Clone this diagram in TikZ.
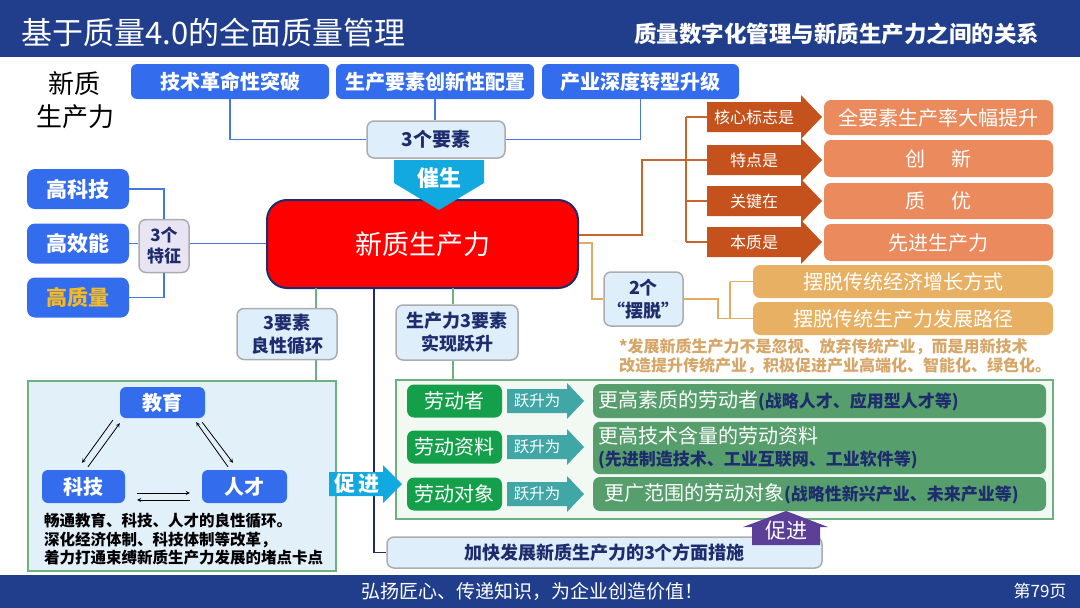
\documentclass[tikz,border=0pt]{standalone}
\usepackage{fontspec}
\setmainfont{Noto Sans CJK SC}
\newcommand{\fsz}[1]{\fontsize{#1}{#1}\selectfont}
\definecolor{hdr}{RGB}{33,62,140}
\definecolor{myblue}{RGB}{52,108,238}
\definecolor{navy}{RGB}{30,44,110}
\definecolor{lineblue}{RGB}{70,120,225}
\definecolor{cyanar}{RGB}{18,168,224}
\definecolor{darkor}{RGB}{197,82,28}
\definecolor{salmon}{RGB}{235,138,92}
\definecolor{tanbox}{RGB}{232,176,98}
\definecolor{tantxt}{RGB}{214,166,104}
\definecolor{lineor}{RGB}{200,100,45}
\definecolor{linetan}{RGB}{228,170,96}
\definecolor{lightbl}{RGB}{222,239,251}
\definecolor{lav}{RGB}{232,228,244}
\definecolor{panelbl}{RGB}{226,240,250}
\definecolor{panelgr}{RGB}{242,249,243}
\definecolor{grline}{RGB}{110,176,128}
\definecolor{green1}{RGB}{20,160,75}
\definecolor{teal1}{RGB}{64,166,166}
\definecolor{dgreen}{RGB}{86,158,108}
\definecolor{purp}{RGB}{92,64,152}
\definecolor{gold}{RGB}{242,186,40}
\definecolor{redbox}{RGB}{255,0,0}
\usetikzlibrary{arrows}

\begin{document}
\begin{tikzpicture}[x=1pt,y=-1pt,>=stealth,
  bbox/.style={fill=myblue,rounded corners=6,text=white,font=\bfseries\fsz{20},inner sep=0},
  lbox/.style={fill=lightbl,draw=gray!65,line width=1.5,rounded corners=7,text=navy,align=center,inner sep=0},
  blueln/.style={draw=lineblue,line width=1.5},
  orangeln/.style={draw=lineor,line width=1.8},
  tanln/.style={draw=linetan,line width=1.8},
  greenln/.style={draw=grline,line width=1.8},
  navyln/.style={draw=navy,line width=1.5},
  thinar/.style={->,line width=0.8}]
  \useasboundingbox (0,0) rectangle (1080,608);

  % header and footer
  \fill[hdr] (0,0) rectangle (1080,57);
  \fill[hdr] (0,575) rectangle (1080,608);
  \node[text=white,font=\fsz{31},anchor=west] (ttl) at (18,33) {基于质量4.0的全面质量管理};
  \node[text=white,font=\bfseries\fsz{22.5},anchor=east] (sub) at (1043,34) {质量数字化管理与新质生产力之间的关系};
  \node[text=white,font=\fsz{19}] (ftr) at (532,591) {弘扬匠心、传递知识，为企业创造价值！};
  \node[text=white,font=\fsz{17},anchor=east] (pg) at (1070,591) {第79页};

  \node[font=\fontsize{26}{33}\selectfont,align=center] (lbl) at (75,100) {新质\\生产力};

  % three factors
  \node[bbox,minimum width=198,minimum height=35] (tech) at (230,81.5) {技术革命性突破};
  \node[bbox,minimum width=198,minimum height=35] (fac) at (435,81.5) {生产要素创新性配置};
  \node[bbox,minimum width=197,minimum height=35] (ind) at (640.5,81.5) {产业深度转型升级};
  \node[lbox,minimum width=138,minimum height=37,font=\bfseries\fsz{19}] (ys) at (436,139.5) {3个要素};
  \draw[blueln] (tech.south) |- (ys.west);
  \draw[blueln] (fac.south) -- (fac.south |- ys.north);
  \draw[blueln] (ind.south) |- (ys.east);

  % core
  \node[fill=redbox,draw=navy,line width=2,rounded corners=20,minimum width=311,minimum height=88,
        text=white,font=\fsz{27}] (core) at (422.5,244) {新质生产力};
  \fill[cyanar] (394,160) -- (484,160) -- (484,183) -- (439,210) -- (394,183) -- cycle;
  \node[text=white,font=\bfseries\fsz{22}] (cs) at (439,178) {催生};

  % three features
  \foreach \y/\t/\n in {189/高科技/hk, 243.5/高效能/hx, 297.5/\textcolor{gold}{高质量}/hz}
    \node[bbox,minimum width=102,minimum height=40,rounded corners=8,font=\bfseries\fsz{21}] (\n) at (78,\y) {\t};
  \node[lbox,fill=lav,minimum width=50,minimum height=53,font=\bfseries\fontsize{17}{21}\selectfont] (tz) at (164,246) {3个\\特征};
  \draw[blueln] (hk.east) -| (tz.north);
  \draw[blueln] (hz.east) -| (tz.south);
  \draw[blueln] (hx.east) -- (tz.west |- hx.east);
  \draw[blueln] (tz.east |- hx.east) -- (core.west |- hx.east);

  % orange branch
  \foreach \y/\t/\n in {117/核心标志是/k1, 160/特点是/k2, 201/关键在/k3, 242/本质是/k4}{
    \fill[darkor] (707,\y-15) -- (801,\y-15) -- (801,\y-22) -- (822,\y) -- (801,\y+22) -- (801,\y+15) -- (707,\y+15) -- cycle;
    \node[text=white,font=\fsz{16},minimum width=94,inner sep=0] (\n) at (754,\y) {\t};
  }
  \foreach \y/\h/\t/\n in {117.5/35/全要素生产率大幅提升/r1, 158.5/37/创\hspace{1.3em}新/r2,
                           201/36/质\hspace{1.3em}优/r3, 242.5/37/先进生产力/r4}
    \node[fill=salmon,rounded corners=7,minimum width=229,minimum height=\h,text=white,font=\fsz{20}] (\n) at (938.5,\y) {\t};
  \coordinate (oj) at (642,235);
  \coordinate (ot) at (686,117);
  \coordinate (ob) at (686,242);
  \draw[orangeln] (core.east |- oj) -- (oj) |- (k2.west);
  \draw[orangeln] (ot) -- (ob);
  \foreach \n in {k1,k3,k4}
    \draw[orangeln] (ot |- \n.west) -- (\n.west);

  % two breakaways
  \node[lbox,minimum width=79,minimum height=54,font=\bfseries\fontsize{18}{23}\selectfont] (bt) at (643.5,299) {2个\\“摆脱”};
  \node[fill=tanbox,rounded corners=7,minimum width=300,minimum height=33,text=white,font=\fsz{20}] (tb1) at (903,281.5) {摆脱传统经济增长方式};
  \node[fill=tanbox,rounded corners=7,minimum width=300,minimum height=33,text=white,font=\fsz{20}] (tb2) at (903,318.5) {摆脱传统生产力发展路径};
  \coordinate (tj) at (592,243);
  \coordinate (tv) at (730,300);
  \draw[tanln] (core.east |- tj) -- (tj) |- (bt.west);
  \draw[tanln] (bt.east) -- ++(34,0) |- (tb2.west);
  \draw[tanln] (tv |- tb1.west) -- (tb1.west);
  \draw[tanln] (tv |- tb1.west) -- (tv |- tb2.west);
  \node[anchor=west,inner sep=0,text=tantxt,font=\bfseries\fontsize{16}{19}\selectfont,align=left] (note) at (619,356)
    {*发展新质生产力不是忽视、放弃传统产业，而是用新技术\\改造提升传统产业，积极促进产业高端化、智能化、绿色化。};

  % lower panels
  \node[draw=grline,fill=panelbl,line width=1.2,minimum width=308,minimum height=190] (lp) at (182,476) {};
  \node[draw=grline,fill=panelgr,line width=1.2,minimum width=657,minimum height=139] (rp) at (724.5,449.5) {};
  \node[lbox,minimum width=100,minimum height=51,font=\bfseries\fontsize{18}{23}\selectfont] (ly) at (287,334) {3要素\\良性循环};
  \node[lbox,minimum width=122,minimum height=55,font=\bfseries\fontsize{18}{23}\selectfont] (sy) at (457,332.5) {生产力3要素\\实现跃升};
  \node[lbox,minimum width=435,minimum height=31,font=\bfseries\fsz{18}] (jk) at (604.5,552.5) {加快发展新质生产力的3个方面措施};
  \coordinate (g1) at (316,288);
  \coordinate (g2) at (453,288);
  \coordinate (n1) at (374,288);
  \draw[greenln] (g1) -- (g1 |- ly.north);
  \draw[greenln] (g1 |- ly.south) -- (g1 |- lp.north);
  \draw[greenln] (g2) -- (g2 |- sy.north);
  \draw[greenln] (g2 |- sy.south) -- (g2 |- rp.north);
  \draw[navyln] (n1) |- (jk.west);

  % virtuous circle
  \node[bbox,minimum width=85,minimum height=31] (jy) at (162.5,402.5) {教育};
  \node[bbox,minimum width=83,minimum height=33] (kj) at (83.5,486.5) {科技};
  \node[bbox,minimum width=85,minimum height=33] (rc) at (244.5,486.5) {人才};
  \draw[thinar] ([shift={(-7,2)}]jy.south west) -- ([shift={(-1.5,-7)}]kj.north);
  \draw[thinar] ([shift={(4.5,-3)}]kj.north) -- ([shift={(0,5)}]jy.south west);
  \draw[thinar] ([shift={(-3,4)}]jy.south east) -- ([shift={(-11.5,-7)}]rc.north);
  \draw[thinar] ([shift={(-16.5,-3)}]rc.north) -- ([shift={(-9,4)}]jy.south east);
  \draw[thinar] ([shift={(12,6.5)}]kj.east) -- ([shift={(-12,6.5)}]rc.west);
  \draw[thinar] ([shift={(-12,13.5)}]rc.west) -- ([shift={(12,13.5)}]kj.east);
  \node[anchor=north west,inner sep=0,font=\bfseries\fontsize{15.5}{18.5}\selectfont,align=left] (lt) at (44,513)
    {畅通教育、科技、人才的良性循环。\\深化经济体制、科技体制等改革，\\着力打通束缚新质生产力发展的堵点卡点};

  % promote
  \fill[cyanar] (329,472) -- (383,472) -- (383,465) -- (402,484) -- (383,503) -- (383,496) -- (329,496) -- cycle;
  \node[text=white,font=\bfseries\fsz{21}] (cj) at (357,484) {促\,进};

  % labour rows
  \foreach \y/\t/\n in {401/劳动者/w1, 447/劳动资料/w2, 494/劳动对象/w3}{
    \node[fill=green1,rounded corners=7,minimum width=95,minimum height=33,inner sep=0,text=white,font=\fsz{20}] (\n) at (454.5,\y) {\t};
    \fill[teal1] (507,\y-12) -- (567,\y-12) -- (567,\y-18) -- (584,\y) -- (567,\y+18) -- (567,\y+12) -- (507,\y+12) -- cycle;
    \node[text=white,font=\fsz{15.5},inner sep=0] (\n u) at (537,\y) {跃升为};
  }
  \node[fill=dgreen,rounded corners=7,minimum width=453,minimum height=34,text width=443,align=left,inner sep=5,
        text=white,font=\fsz{20}] (d1) at (819.5,401)
    {更高素质的劳动者{\color{navy}\bfseries\fsz{17}(战略人才、应用型人才等)}};
  \node[fill=dgreen,rounded corners=7,minimum width=453,minimum height=48,text width=443,align=left,inner sep=5,
        text=white,font=\fontsize{20}{22}\selectfont] (d2) at (819.5,448)
    {更高技术含量的劳动资料\\{\color{navy}\bfseries\fsz{17}(先进制造技术、工业互联网、工业软件等)}};
  \node[fill=dgreen,rounded corners=7,minimum width=453,minimum height=34,text width=443,align=left,inner sep=5,
        text=white,font=\fsz{20}] (d3) at (819.5,494)
    {\hspace{6pt}更广范围的劳动对象{\color{navy}\bfseries\fsz{17}(战略性新兴产业、未来产业等)}};

  % promote up
  \fill[purp] (752,545) -- (752,527) -- (743,527) -- (786,511) -- (828,527) -- (820,527) -- (820,545) -- cycle;
  \node[text=white,font=\fsz{21}] (pj) at (786,531) {促进};
\end{tikzpicture}
\end{document}
